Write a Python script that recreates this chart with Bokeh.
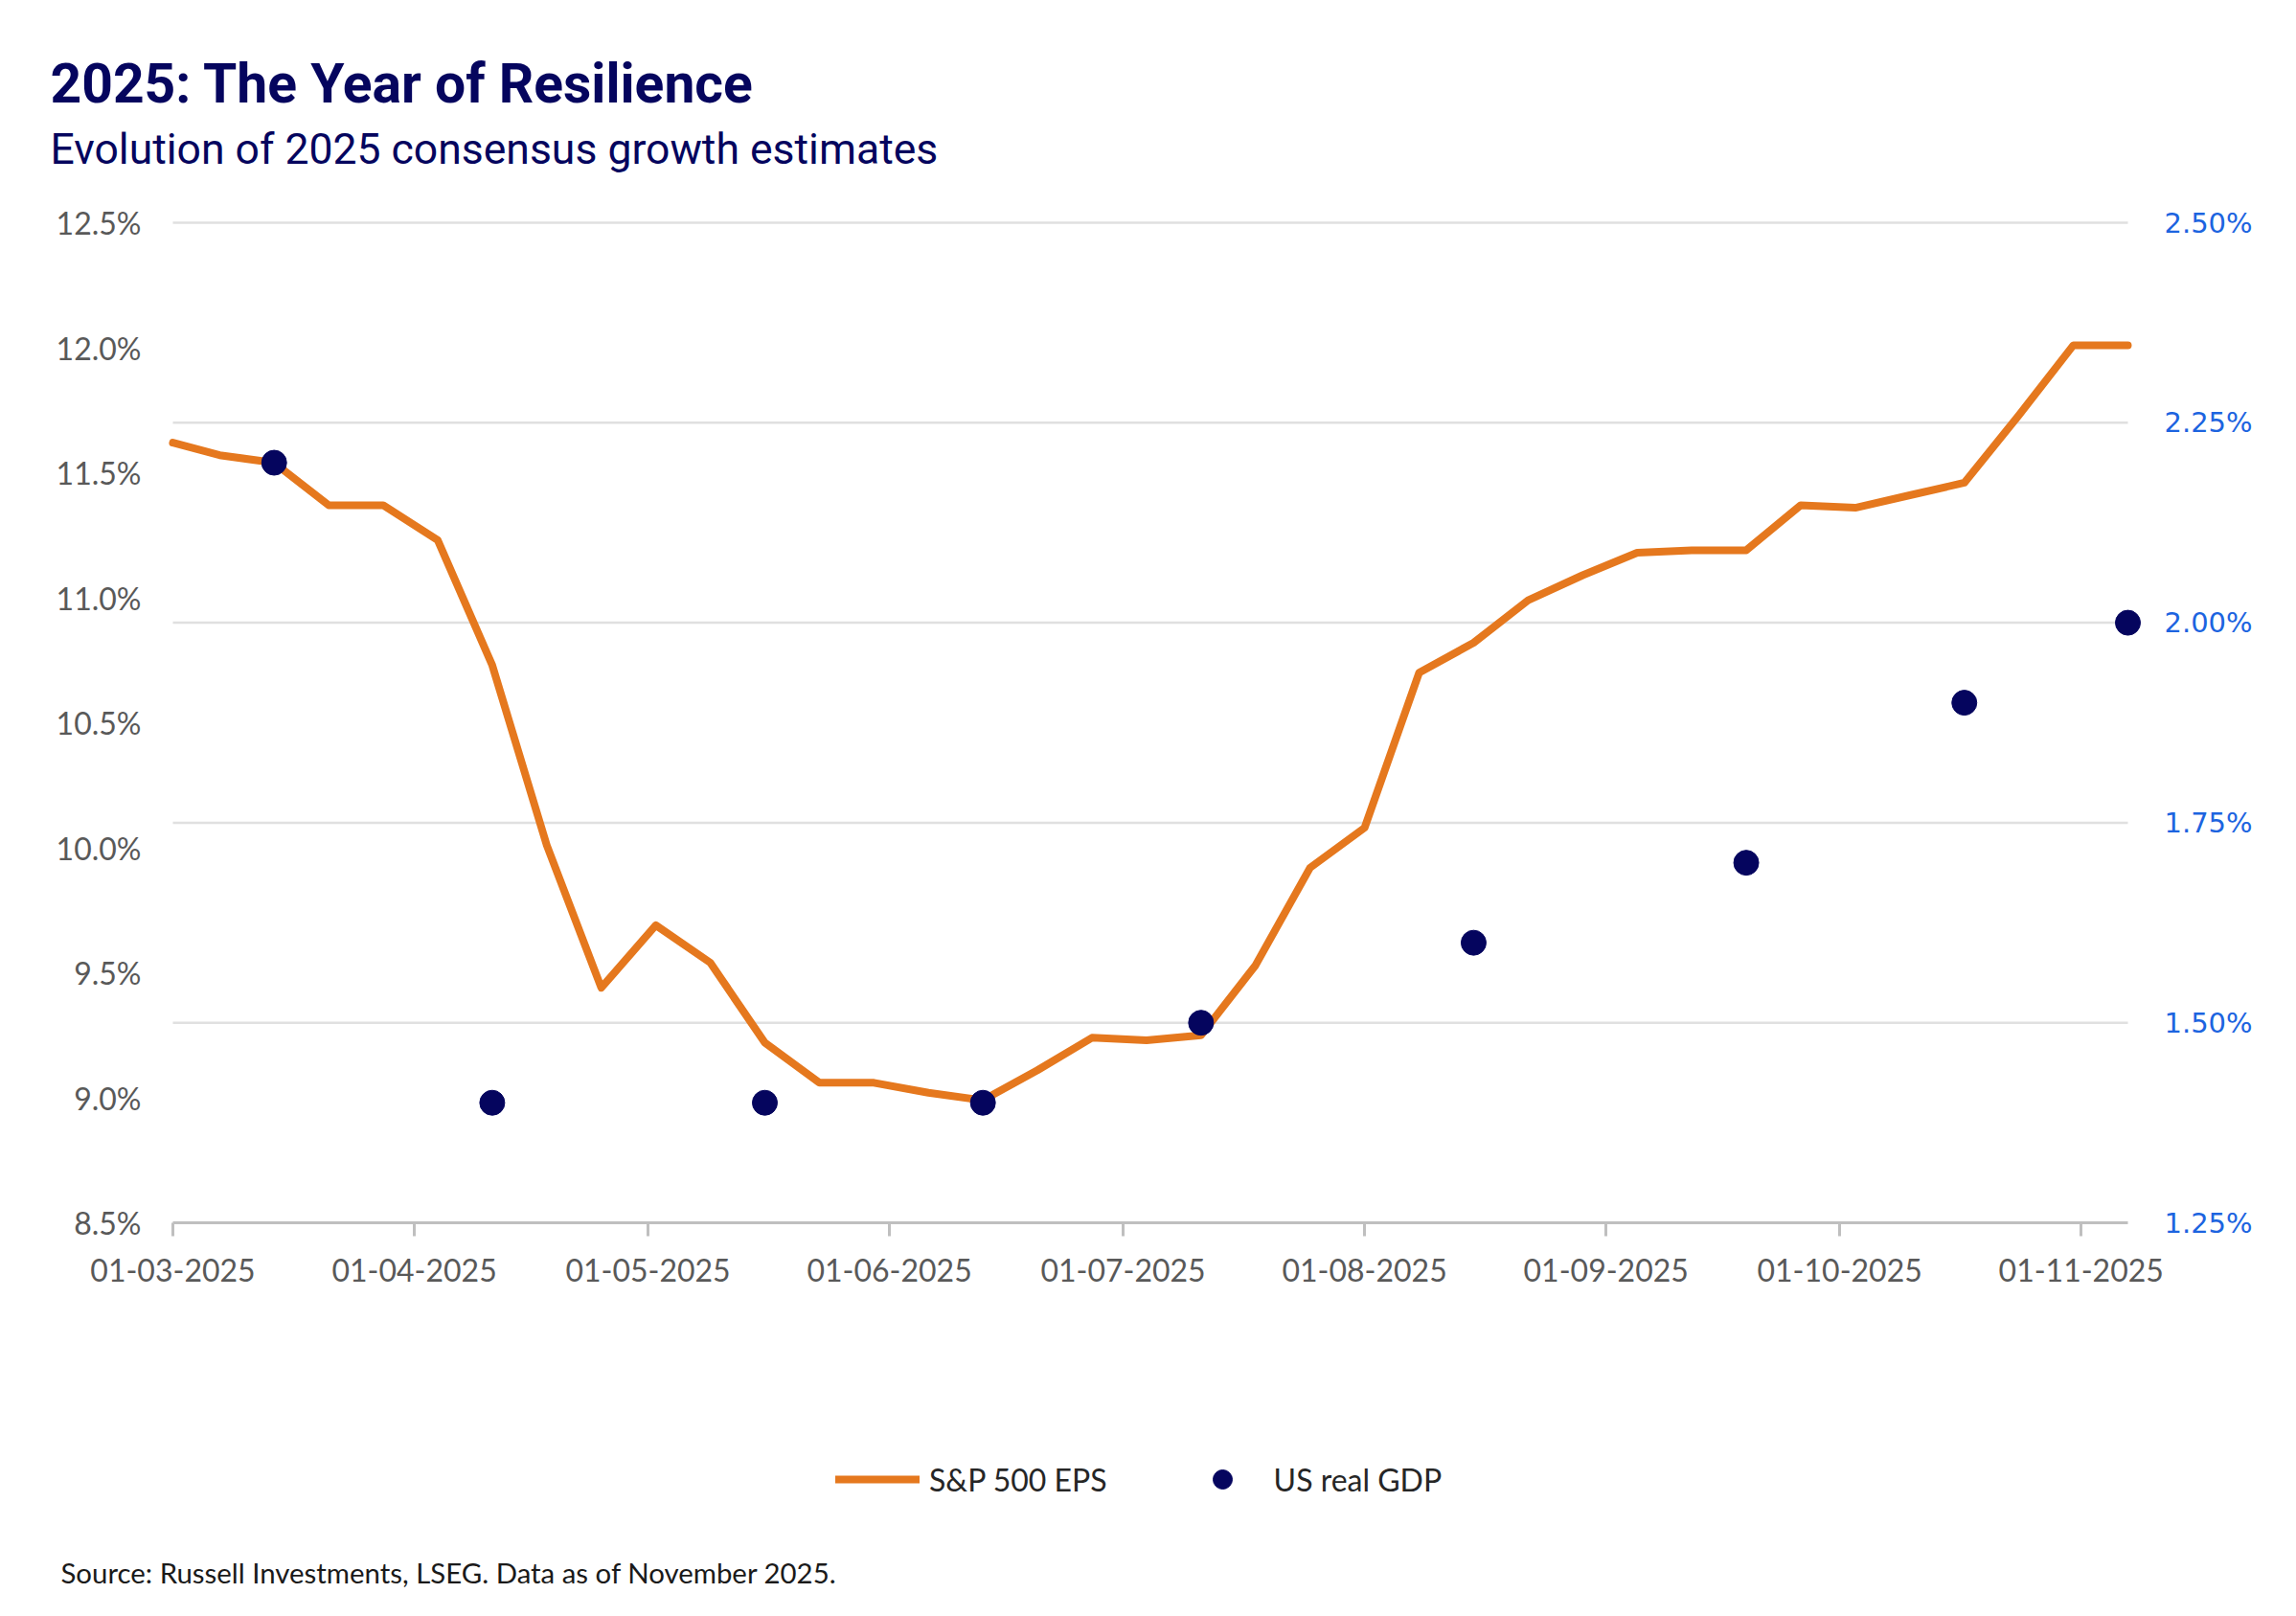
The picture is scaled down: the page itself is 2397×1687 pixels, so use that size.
import pandas as pd
from bokeh.plotting import figure
from bokeh.models import (Range1d, LinearAxis, FixedTicker, Label, Legend, LegendItem,
                          DatetimeTickFormatter, PrintfTickFormatter)
from bokeh.embed import file_html
from bokeh.resources import INLINE

# ---------------- data ----------------
eps_dates = ["2025-03-01", "2025-03-07", "2025-03-14", "2025-03-21", "2025-03-28",
             "2025-04-04", "2025-04-11", "2025-04-18", "2025-04-25", "2025-05-02",
             "2025-05-09", "2025-05-16", "2025-05-23", "2025-05-30", "2025-06-06",
             "2025-06-13", "2025-06-20", "2025-06-27", "2025-07-04", "2025-07-11",
             "2025-07-18", "2025-07-25", "2025-08-01", "2025-08-08", "2025-08-15",
             "2025-08-22", "2025-08-29", "2025-09-05", "2025-09-12", "2025-09-19",
             "2025-09-26", "2025-10-03", "2025-10-10", "2025-10-17", "2025-10-24",
             "2025-10-31", "2025-11-07"]
eps_growth = [11.62, 11.57, 11.54, 11.37, 11.37,
              11.23, 10.73, 10.01, 9.44, 9.69,
              9.54, 9.22, 9.06, 9.06, 9.02,
              8.99, 9.11, 9.24, 9.23, 9.25,
              9.53, 9.92, 10.08, 10.70, 10.82,
              10.99, 11.09, 11.18, 11.19, 11.19,
              11.37, 11.36, 11.41, 11.46, 11.73,
              12.01, 12.01]

gdp_dates = ["2025-03-14", "2025-04-11", "2025-05-16", "2025-06-13", "2025-07-11",
             "2025-08-15", "2025-09-19", "2025-10-17", "2025-11-07"]
gdp_growth = [2.20, 1.40, 1.40, 1.40, 1.50, 1.60, 1.70, 1.90, 2.00]

left_ticks = [8.5, 9.0, 9.5, 10.0, 10.5, 11.0, 11.5, 12.0, 12.5]
right_ticks = [1.25, 1.50, 1.75, 2.00, 2.25, 2.50]
month_ticks = ["2025-03-01", "2025-04-01", "2025-05-01", "2025-06-01", "2025-07-01",
               "2025-08-01", "2025-09-01", "2025-10-01", "2025-11-01"]

title_text = "2025: The Year of Resilience"
subtitle_text = "Evolution of 2025 consensus growth estimates"
source_text = "Source: Russell Investments, LSEG. Data as of November 2025."
eps_name = "S&P 500 EPS"
gdp_name = "US real GDP"

# ---------------- styling / layout ----------------
W, H = 2397, 1687
PLOT_LEFT, PLOT_RIGHT = 180.0, 2221.0      # pixel of first / last date
PLOT_TOP, PLOT_BOTTOM = 232.0, 1276.0      # pixel of top / bottom tick

NAVY = "#05055e"
ORANGE = "#e5781e"
GRID = "#e0e0e0"
AXIS_GREY = "#bfbfbf"
LABEL_GREY = "#595959"
BLUE = "#1c64e0"

eps_x = pd.to_datetime(eps_dates)
gdp_x = pd.to_datetime(gdp_dates)
EPOCH = pd.Timestamp("1970-01-01")

def ms(ts):
    return (pd.Timestamp(ts) - EPOCH).total_seconds() * 1000.0

tick_ms = [ms(d) for d in month_ticks]

# x scale: whole canvas is the frame
x0_ms, x1_ms = ms(eps_x[0]), ms(eps_x[-1])
ms_per_px = (x1_ms - x0_ms) / (PLOT_RIGHT - PLOT_LEFT)
x_start = x0_ms - PLOT_LEFT * ms_per_px
x_end = x0_ms + (W - PLOT_LEFT) * ms_per_px

# left y scale
l_lo, l_hi = left_ticks[0], left_ticks[-1]
l_per_px = (l_hi - l_lo) / (PLOT_BOTTOM - PLOT_TOP)
y_top = l_hi + PLOT_TOP * l_per_px
y_bot = l_lo - (H - PLOT_BOTTOM) * l_per_px

# right y scale
r_lo, r_hi = right_ticks[0], right_ticks[-1]
r_per_px = (r_hi - r_lo) / (PLOT_BOTTOM - PLOT_TOP)
r_top = r_hi + PLOT_TOP * r_per_px
r_bot = r_lo - (H - PLOT_BOTTOM) * r_per_px

p = figure(
    x_axis_type="datetime",
    x_range=Range1d(x_start, x_end),
    y_range=Range1d(y_bot, y_top),
    width=W, height=H, min_border=0,
    output_backend="svg", toolbar_location=None,
    background_fill_color="white", border_fill_color="white",
)
p.title.visible = False
p.outline_line_color = None
p.xgrid.visible = False
p.ygrid.visible = False
p.extra_y_ranges = {"gdp": Range1d(r_bot, r_top)}

# gridlines at right-axis ticks, spanning first to last date
grid_vals = right_ticks[1:]
p.segment(x0=[eps_x[0]] * len(grid_vals), y0=grid_vals,
          x1=[eps_x[-1]] * len(grid_vals), y1=grid_vals,
          y_range_name="gdp", line_color=GRID, line_width=2.5)
# x axis baseline
p.segment(x0=[eps_x[0]], y0=[l_lo], x1=[eps_x[-1]], y1=[l_lo],
          line_color=AXIS_GREY, line_width=3)

# series
line_r = p.line(eps_x, eps_growth, line_color=ORANGE, line_width=8,
                line_join="round", line_cap="round")
dot_r = p.scatter(gdp_x, gdp_growth, y_range_name="gdp", size=26,
                  fill_color=NAVY, line_color=NAVY)

# x axis (fixed at the bottom tick)
xa = p.xaxis[0]
xa.fixed_location = l_lo
xa.ticker = FixedTicker(ticks=tick_ms)
fmt = "%d-%m-%Y"
xa.formatter = DatetimeTickFormatter(milliseconds=fmt, seconds=fmt, minsec=fmt, minutes=fmt,
                                     hourmin=fmt, hours=fmt, days=fmt, months=fmt, years=fmt)
xa.axis_line_color = None
xa.major_tick_line_color = AXIS_GREY
xa.major_tick_line_width = 3
xa.major_tick_in = 0
xa.major_tick_out = 14
xa.minor_tick_line_color = None
xa.major_label_text_font = "Lato"
xa.major_label_text_font_size = "32px"
xa.major_label_text_color = LABEL_GREY
xa.major_label_standoff = 23

# left axis (fixed at first date)
ya = p.yaxis[0]
ya.fixed_location = x0_ms
ya.ticker = FixedTicker(ticks=left_ticks)
ya.formatter = PrintfTickFormatter(format="%.1f%%")
ya.axis_line_color = None
ya.major_tick_line_color = None
ya.minor_tick_line_color = None
ya.major_tick_in = 0
ya.major_tick_out = 0
ya.major_label_text_font = "Lato"
ya.major_label_text_font_size = "32px"
ya.major_label_text_color = LABEL_GREY
ya.major_label_standoff = 33

# right axis (fixed at last date)
ra = LinearAxis(y_range_name="gdp", fixed_location=x1_ms)
ra.ticker = FixedTicker(ticks=right_ticks)
ra.formatter = PrintfTickFormatter(format="%.2f%%")
ra.axis_line_color = None
ra.major_tick_line_color = None
ra.minor_tick_line_color = None
ra.major_tick_in = 0
ra.major_tick_out = 0
ra.major_label_text_font = "DejaVu Sans"
ra.major_label_text_font_size = "29px"
ra.major_label_text_color = BLUE
ra.major_label_standoff = 38
p.add_layout(ra, "right")

# texts (screen units: x from left edge, y up from bottom edge)
def sy(page_y):
    return H - page_y

p.add_layout(Label(x=52, y=sy(87), x_units="screen", y_units="screen", text=title_text,
                   text_font="Roboto", text_font_style="bold",
                   text_font_size="57px", text_color=NAVY, text_baseline="alphabetic"))
p.add_layout(Label(x=52, y=sy(155), x_units="screen", y_units="screen", text=subtitle_text,
                   text_font="Roboto", text_font_size="44.5px", text_color=NAVY,
                   text_baseline="alphabetic"))
p.add_layout(Label(x=63, y=sy(1641), x_units="screen", y_units="screen", text=source_text,
                   text_font="Lato", text_font_size="29.4px", text_color="#1a1a1a",
                   text_baseline="alphabetic"))

legend = Legend(items=[LegendItem(label=eps_name, renderers=[line_r]),
                       LegendItem(label=gdp_name, renderers=[dot_r])],
                orientation="horizontal", location=(872, sy(1569)),
                glyph_width=88, glyph_height=50, label_height=50, label_standoff=10,
                spacing=76, padding=0, margin=0, border_line_color=None,
                background_fill_alpha=0,
                label_text_font="Lato", label_text_font_size="32px",
                label_text_color="#262626")
p.add_layout(legend)

open("out.html", "w").write(file_html(p, INLINE))
